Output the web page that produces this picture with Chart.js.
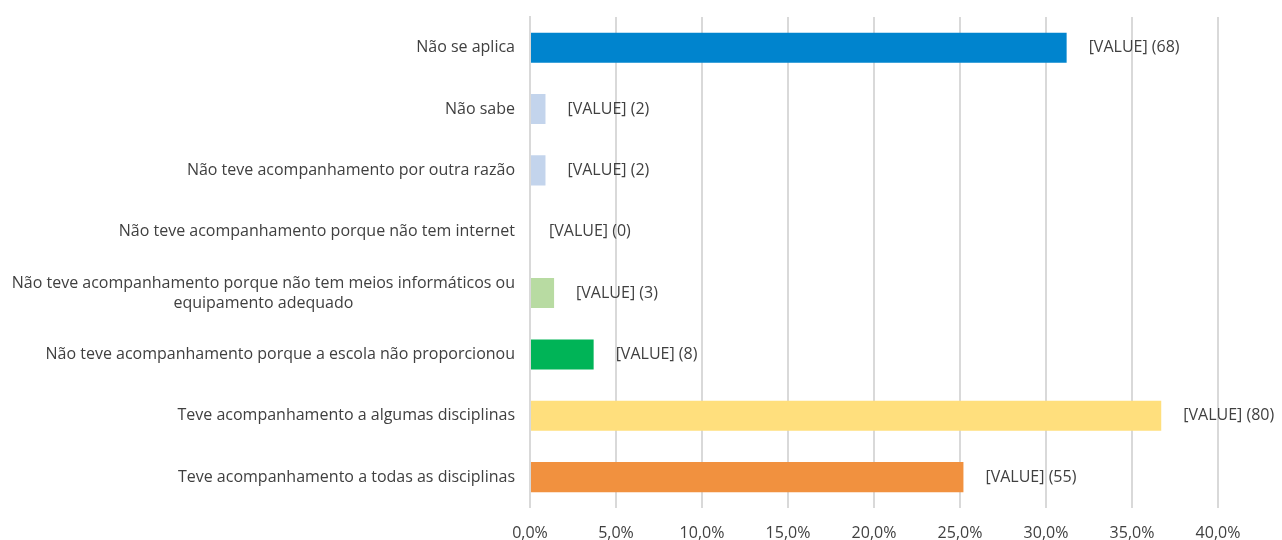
<!DOCTYPE html>
<html>
<head>
<meta charset="utf-8">
<script src="https://cdn.jsdelivr.net/npm/chart.js@4/dist/chart.umd.min.js"></script>
<style>
  html, body { margin: 0; padding: 0; background: #fff; }
  #wrap { width: 1282px; height: 540px; position: relative; }
</style>
</head>
<body>
<div id="wrap"><canvas id="chart"></canvas></div>
<script>
// categories, top to bottom
const categories = [
  ['Não se aplica'],
  ['Não sabe'],
  ['Não teve acompanhamento por outra razão'],
  ['Não teve acompanhamento porque não tem internet'],
  ['Não teve acompanhamento porque não tem meios informáticos ou', 'equipamento adequado'],
  ['Não teve acompanhamento porque a escola não proporcionou'],
  ['Teve acompanhamento a algumas disciplinas'],
  ['Teve acompanhamento a todas as disciplinas']
];
// percentage of answers
const percentages = [31.2, 0.9, 0.9, 0.0, 1.4, 3.7, 36.7, 25.2];
// counts shown in the data labels
const counts = [68, 2, 2, 0, 3, 8, 80, 55];
const barColors = ['#0084CE', '#C3D4EC', '#C3D4EC', '#C3D4EC', '#B8DBA2', '#00B457', '#FFDF7D', '#F1913F'];
const xTicks = [0, 5, 10, 15, 20, 25, 30, 35, 40];

const FONT = '"Open Sans", sans-serif';
const TEXT = '#404040';

// ✅ left labels: right aligned block, lines centered inside it
const categoryLabels = {
  id: 'categoryLabels',
  afterDraw(chart) {
    const { ctx } = chart;
    const y = chart.scales.y;
    ctx.save();
    ctx.font = '16px ' + FONT;
    ctx.fillStyle = TEXT;
    ctx.textAlign = 'center';
    ctx.textBaseline = 'middle';
    const right = chart.chartArea.left - 15;
    const lh = 20;
    categories.forEach((lines, i) => {
      const w = Math.max(...lines.map(l => ctx.measureText(l).width));
      const cx = right - w / 2;
      const cy = y.getPixelForValue(i);
      lines.forEach((l, k) => {
        ctx.fillText(l, cx, cy + (k - (lines.length - 1) / 2) * lh);
      });
    });
    ctx.restore();
  }
};

// ✅ value labels after each bar
const valueLabels = {
  id: 'valueLabels',
  afterDatasetsDraw(chart) {
    const { ctx } = chart;
    const meta = chart.getDatasetMeta(0);
    ctx.save();
    ctx.font = '16px ' + FONT;
    ctx.fillStyle = TEXT;
    ctx.textAlign = 'left';
    ctx.textBaseline = 'middle';
    meta.data.forEach((bar, i) => {
      const gap = percentages[i] === 0 ? 19 : 22;
      ctx.fillText('[VALUE] (' + counts[i] + ')', bar.x + gap, bar.y);
    });
    ctx.restore();
  }
};

new Chart(document.getElementById('chart'), {
  type: 'bar',
  data: {
    labels: categories.map(c => c.join(' ')),
    datasets: [{
      data: percentages,
      backgroundColor: barColors,
      borderWidth: 0,
      barPercentage: 0.49,
      categoryPercentage: 1
    }]
  },
  options: {
    indexAxis: 'y',
    responsive: true,
    maintainAspectRatio: false,
    animation: false,
    layout: { padding: { left: 530, right: 64, top: 17, bottom: -19 } },
    plugins: { legend: { display: false }, tooltip: { enabled: false } },
    scales: {
      x: {
        min: 0,
        max: 40,
        afterBuildTicks: s => { s.ticks = xTicks.map(v => ({ value: v })); },
        grid: { color: '#D9D9D9', lineWidth: 2, drawTicks: false },
        border: { display: false },
        ticks: {
          padding: 16,
          color: TEXT,
          font: { family: FONT, size: 16 },
          callback: v => v.toFixed(1).replace('.', ',') + '%'
        }
      },
      y: {
        grid: { display: false },
        border: { color: '#D9D9D9', width: 2 },
        ticks: { display: false },
        afterFit: s => { s.width = 0; }
      }
    }
  },
  plugins: [categoryLabels, valueLabels]
});
</script>
</body>
</html>
